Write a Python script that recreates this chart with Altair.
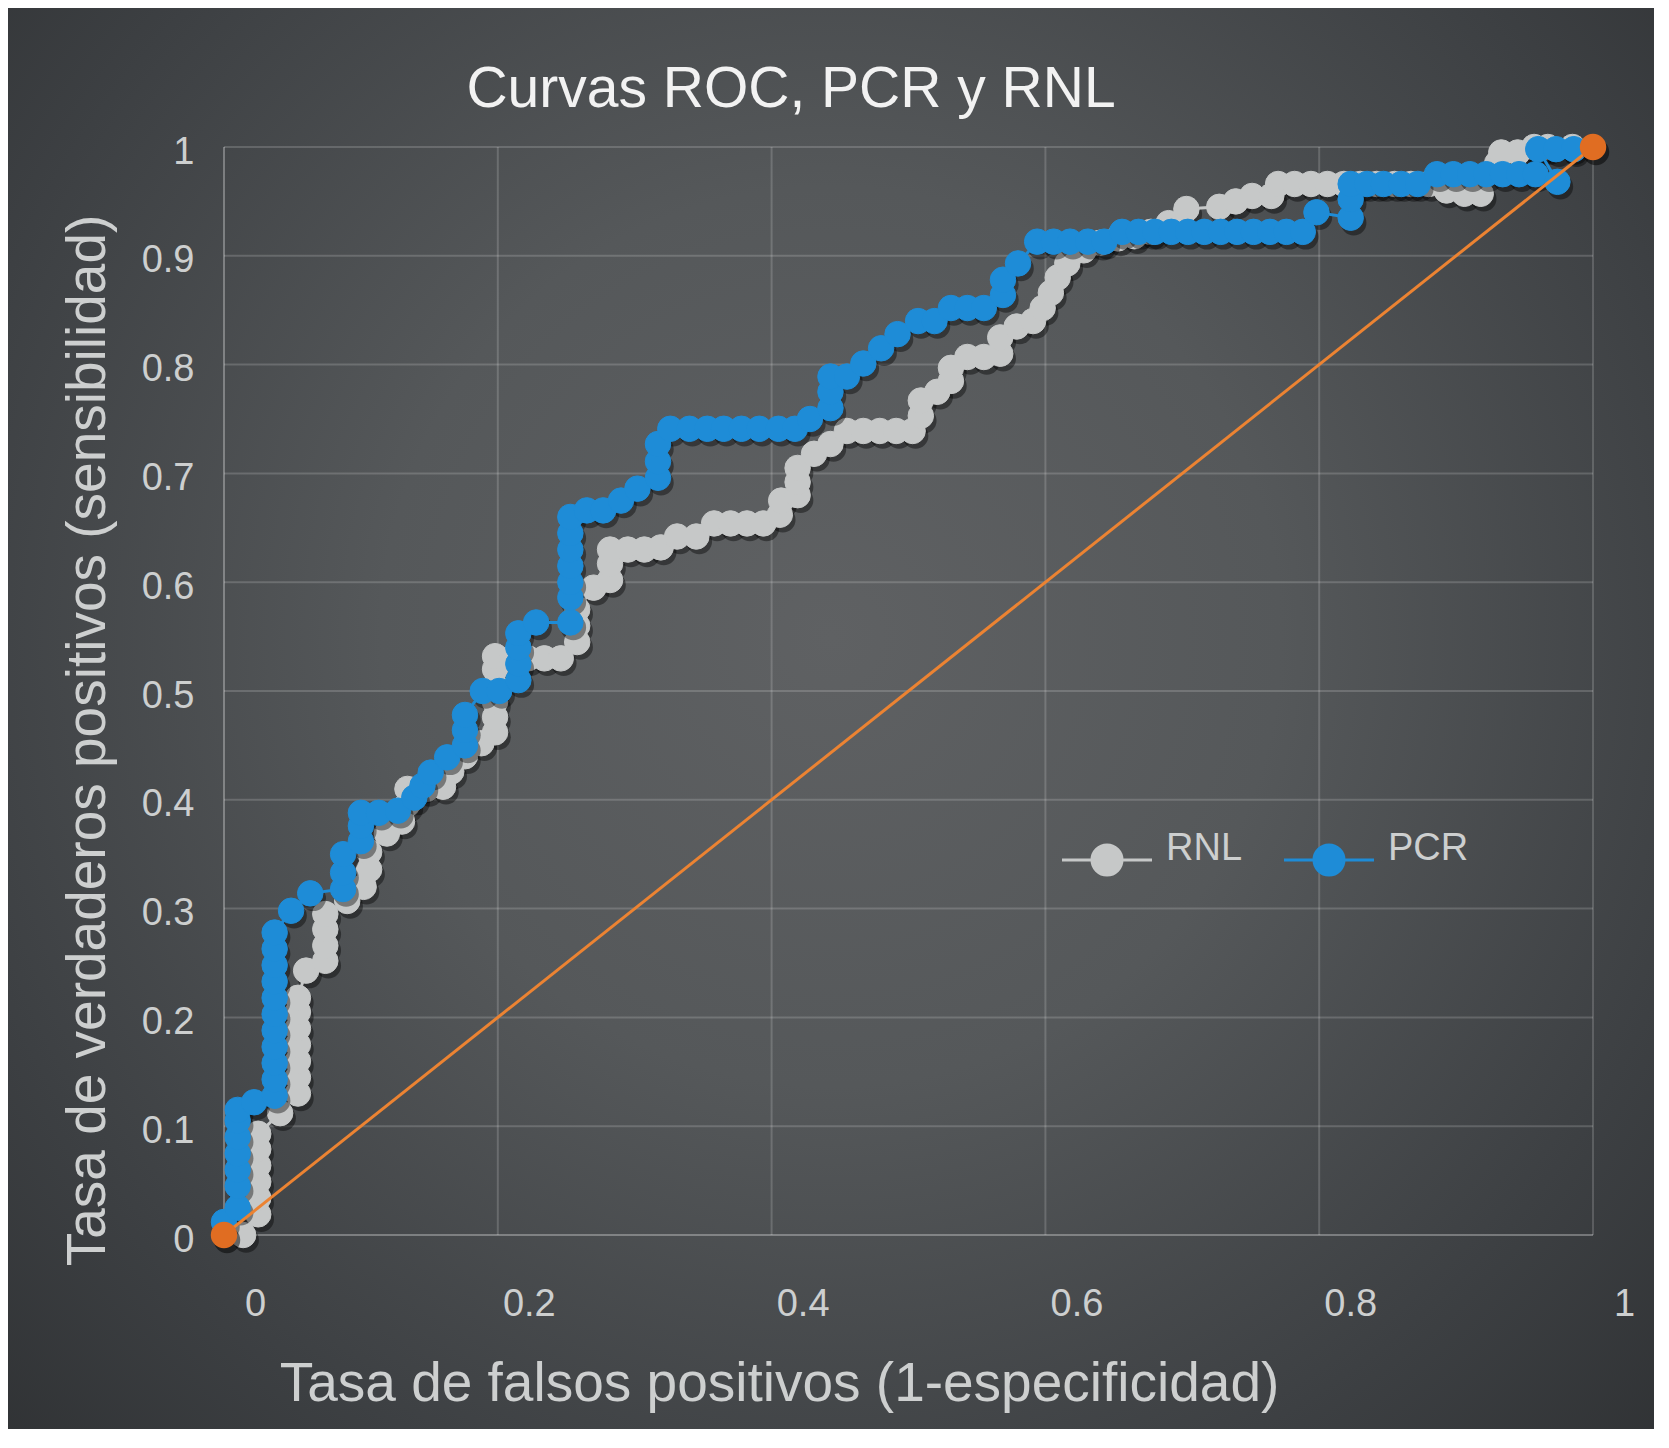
import altair as alt
import pandas as pd

TITLE = "Curvas ROC, PCR y RNL"
X_TITLE = "Tasa de falsos positivos (1-especificidad)"
Y_TITLE = "Tasa de verdaderos positivos (sensibilidad)"
SERIES = ["RNL", "PCR"]
X_TICKS = [0, 0.2, 0.4, 0.6, 0.8, 1]
Y_TICKS = [0, 0.1, 0.2, 0.3, 0.4, 0.5, 0.6, 0.7, 0.8, 0.9, 1]

PCR_FPR = [0.000, 0.010, 0.010, 0.010, 0.010, 0.010, 0.010, 0.010, 0.022, 0.037,
           0.037, 0.037, 0.037, 0.037, 0.037, 0.037, 0.037, 0.037, 0.037, 0.037,
           0.049, 0.063, 0.087, 0.087, 0.087, 0.100, 0.100, 0.100, 0.113, 0.127,
           0.139, 0.145, 0.151, 0.163, 0.176, 0.176, 0.176, 0.189, 0.201, 0.215,
           0.215, 0.215, 0.215, 0.228, 0.253, 0.253, 0.253, 0.253, 0.253, 0.253,
           0.253, 0.265, 0.277, 0.290, 0.302, 0.317, 0.317, 0.317, 0.326, 0.340,
           0.353, 0.365, 0.378, 0.391, 0.405, 0.417, 0.428, 0.443, 0.443, 0.443,
           0.455, 0.467, 0.480, 0.492, 0.507, 0.519, 0.531, 0.543, 0.555, 0.569,
           0.569, 0.580, 0.594, 0.606, 0.618, 0.631, 0.643, 0.656, 0.668, 0.680,
           0.692, 0.704, 0.716, 0.728, 0.740, 0.752, 0.764, 0.776, 0.788, 0.798,
           0.823, 0.823, 0.823, 0.835, 0.847, 0.860, 0.872, 0.886, 0.898, 0.910,
           0.922, 0.934, 0.946, 0.958, 0.974, 0.960, 0.973, 0.986]
PCR_TPR = [0.012, 0.025, 0.045, 0.060, 0.075, 0.090, 0.105, 0.115, 0.122, 0.128,
           0.143, 0.158, 0.173, 0.188, 0.203, 0.218, 0.233, 0.248, 0.263, 0.278,
           0.298, 0.314, 0.318, 0.333, 0.350, 0.362, 0.376, 0.388, 0.388, 0.390,
           0.402, 0.413, 0.425, 0.439, 0.450, 0.464, 0.478, 0.500, 0.500, 0.510,
           0.525, 0.540, 0.553, 0.563, 0.563, 0.586, 0.600, 0.615, 0.630, 0.645,
           0.660, 0.666, 0.666, 0.675, 0.686, 0.696, 0.711, 0.727, 0.741, 0.741,
           0.741, 0.741, 0.741, 0.741, 0.741, 0.741, 0.750, 0.760, 0.775, 0.789,
           0.789, 0.801, 0.815, 0.828, 0.840, 0.840, 0.852, 0.852, 0.852, 0.864,
           0.878, 0.893, 0.913, 0.913, 0.913, 0.913, 0.913, 0.922, 0.922, 0.922,
           0.922, 0.922, 0.922, 0.922, 0.922, 0.922, 0.922, 0.922, 0.922, 0.940,
           0.935, 0.952, 0.966, 0.966, 0.966, 0.966, 0.966, 0.975, 0.975, 0.975,
           0.975, 0.975, 0.975, 0.975, 0.968, 0.998, 0.998, 0.998]

RNL_FPR = [0.014, 0.025, 0.025, 0.025, 0.025, 0.025, 0.025, 0.041, 0.054, 0.054,
           0.054, 0.054, 0.054, 0.054, 0.054, 0.060, 0.074, 0.074, 0.074, 0.074,
           0.090, 0.102, 0.106, 0.106, 0.119, 0.130, 0.134, 0.134, 0.148, 0.160,
           0.166, 0.176, 0.188, 0.198, 0.198, 0.198, 0.198, 0.198, 0.198, 0.210,
           0.222, 0.234, 0.246, 0.258, 0.258, 0.258, 0.270, 0.282, 0.282, 0.282,
           0.295, 0.307, 0.319, 0.331, 0.345, 0.358, 0.370, 0.382, 0.394, 0.406,
           0.407, 0.419, 0.419, 0.419, 0.431, 0.443, 0.455, 0.467, 0.479, 0.491,
           0.503, 0.509, 0.509, 0.521, 0.531, 0.531, 0.543, 0.555, 0.567, 0.567,
           0.579, 0.591, 0.598, 0.604, 0.609, 0.616, 0.628, 0.640, 0.653, 0.665,
           0.677, 0.690, 0.703, 0.727, 0.739, 0.751, 0.765, 0.770, 0.782, 0.794,
           0.806, 0.818, 0.830, 0.842, 0.855, 0.867, 0.880, 0.893, 0.906, 0.918,
           0.930, 0.933, 0.945, 0.957, 0.967, 0.985]
RNL_TPR = [0.000, 0.019, 0.034, 0.049, 0.064, 0.079, 0.093, 0.112, 0.130, 0.145,
           0.160, 0.175, 0.190, 0.205, 0.218, 0.243, 0.252, 0.266, 0.281, 0.295,
           0.307, 0.320, 0.336, 0.352, 0.369, 0.380, 0.396, 0.410, 0.410, 0.412,
           0.426, 0.440, 0.452, 0.462, 0.476, 0.490, 0.505, 0.520, 0.532, 0.530,
           0.530, 0.530, 0.530, 0.545, 0.560, 0.575, 0.595, 0.602, 0.617, 0.630,
           0.630, 0.630, 0.632, 0.642, 0.642, 0.654, 0.654, 0.654, 0.654, 0.662,
           0.675, 0.680, 0.692, 0.705, 0.718, 0.727, 0.739, 0.739, 0.739, 0.739,
           0.739, 0.753, 0.767, 0.775, 0.785, 0.797, 0.807, 0.807, 0.810, 0.825,
           0.835, 0.840, 0.852, 0.866, 0.880, 0.893, 0.905, 0.912, 0.916, 0.918,
           0.922, 0.930, 0.943, 0.945, 0.950, 0.955, 0.955, 0.966, 0.966, 0.966,
           0.966, 0.966, 0.966, 0.966, 0.966, 0.966, 0.966, 0.960, 0.957, 0.957,
           0.985, 0.995, 0.995, 1.000, 1.000, 1.000]

DIAG_FPR = [0, 1]
DIAG_TPR = [0, 1]

# ---- styling ----
W, H = 1369, 1088
PAD = {"left": 216, "top": 139, "right": 61, "bottom": 194}
FONT = "Liberation Sans"
BLUE = "#1e8cd7"
GRAY = "#c6c8c8"
ORANGE_LINE = "#ec8332"
ORANGE_PT = "#e06d22"
LABEL_C = "#cdcfcf"
TITLE_C = "#f2f2f2"
LEGEND_PATH = "M-3,0H-1M1,0H3M-1,0A1,1,0,1,0,1,0A1,1,0,1,0,-1,0Z"
PT_SIZE = 650

rnl = pd.DataFrame({"fpr": RNL_FPR, "tpr": RNL_TPR, "serie": "RNL", "i": range(len(RNL_FPR))})
pcr = pd.DataFrame({"fpr": PCR_FPR, "tpr": PCR_TPR, "serie": "PCR", "i": range(len(PCR_FPR))})
diag = pd.DataFrame({"fpr": DIAG_FPR, "tpr": DIAG_TPR})
xgrid = pd.DataFrame({"fpr": X_TICKS})
ygrid = pd.DataFrame({"tpr": Y_TICKS})

xs = alt.Scale(domain=[0, 1], nice=False, zero=False)
ys = alt.Scale(domain=[0, 1], nice=False, zero=False)

x_axis = alt.Axis(values=X_TICKS, format=".1~f", grid=False, domain=False, ticks=False,
                  labelOffset=31, labelPadding=50, labelFontSize=38, labelColor=LABEL_C,
                  labelFont=FONT, labelFlush=False, labelOverlap=False,
                  title=X_TITLE, titleX=555, titleY=165, titleAlign="center",
                  titleBaseline="alphabetic", titleFontSize=55, titleFontWeight="normal",
                  titleColor=LABEL_C, titleFont=FONT, zindex=1)
y_axis = alt.Axis(values=Y_TICKS, format=".1~f", grid=False, domain=False, ticks=False,
                  labelOffset=5, labelPadding=30, labelFontSize=38, labelColor=LABEL_C,
                  labelFont=FONT, labelFlush=False, labelOverlap=False,
                  title=Y_TITLE, titleX=-120, titleY=593, titleAngle=270, titleAlign="center",
                  titleBaseline="alphabetic", titleFontSize=55, titleFontWeight="normal",
                  titleColor=LABEL_C, titleFont=FONT, zindex=1)

X = alt.X("fpr:Q", scale=xs, axis=x_axis)
Y = alt.Y("tpr:Q", scale=ys, axis=y_axis)

legend = alt.Legend(title=None, orient="none", legendX=864, legendY=694, direction="horizontal",
                    symbolType=LEGEND_PATH, symbolSize=900, symbolStrokeWidth=3, symbolOpacity=1,
                    labelFontSize=38, labelColor=LABEL_C, labelFont=FONT, labelOffset=40,
                    labelBaseline="alphabetic", columnPadding=35, padding=0)
fill_enc = alt.Fill("serie:N", scale=alt.Scale(domain=SERIES, range=[GRAY, BLUE]), legend=legend)
stroke_enc = alt.Stroke("serie:N", scale=alt.Scale(domain=SERIES, range=[GRAY, BLUE]), legend=legend)

bg = alt.Chart(pd.DataFrame({"k": [0]})).mark_rect(
    color={"gradient": "radial", "x1": 0.5, "y1": 0.45, "r1": 0, "x2": 0.5, "y2": 0.45, "r2": 0.78,
           "stops": [{"offset": 0, "color": "#5f6163"}, {"offset": 0.35, "color": "#55585a"},
                     {"offset": 0.7, "color": "#3d4043"}, {"offset": 1, "color": "#2a2c2e"}]}
).encode(x=alt.value(-PAD["left"]), x2=alt.value(W + PAD["right"]),
         y=alt.value(-PAD["top"]), y2=alt.value(H + PAD["bottom"]))

vgrid = alt.Chart(xgrid).mark_rule(color="#ffffff", strokeWidth=2).encode(
    x=X, y=alt.value(0), y2=alt.value(H),
    opacity=alt.condition("datum.fpr == 0", alt.value(0.3), alt.value(0.17)))
hgrid = alt.Chart(ygrid).mark_rule(color="#ffffff", strokeWidth=2).encode(
    y=Y, x=alt.value(0), x2=alt.value(W),
    opacity=alt.condition("datum.tpr == 0", alt.value(0.3), alt.value(0.17)))


def series_layers(df, color):
    shadow = alt.Chart(df).mark_circle(size=PT_SIZE, color="#000000", opacity=0.4,
                                       xOffset=3, yOffset=5).encode(x=X, y=Y)
    line = alt.Chart(df).mark_line(strokeWidth=3, color=color).encode(x=X, y=Y, order="i:Q")
    pts = alt.Chart(df).mark_point(filled=True, size=PT_SIZE, opacity=1, strokeWidth=1).encode(
        x=X, y=Y, fill=fill_enc, stroke=stroke_enc)
    return [shadow, line, pts]


diag_line = alt.Chart(diag).mark_line(color=ORANGE_LINE, strokeWidth=3).encode(x=X, y=Y)
diag_shadow = alt.Chart(diag).mark_circle(size=700, color="#000000", opacity=0.5,
                                          xOffset=3, yOffset=5).encode(x=X, y=Y)
diag_pts = alt.Chart(diag).mark_circle(size=700, color=ORANGE_PT, opacity=1).encode(x=X, y=Y)

title = alt.Chart(pd.DataFrame({"t": [TITLE]})).mark_text(
    fontSize=57, font=FONT, color=TITLE_C, align="center", baseline="alphabetic"
).encode(text="t:N", x=alt.value(567), y=alt.value(-40))

chart = alt.layer(
    bg, vgrid, hgrid,
    *series_layers(rnl, GRAY), *series_layers(pcr, BLUE),
    diag_line, diag_shadow, diag_pts, title
).properties(
    width=W, height=H, padding=PAD, autosize=alt.AutoSizeParams(type="none")
).configure_view(strokeOpacity=0).configure(background="#ffffff")

chart.save("out.html", embed_options={"renderer": "svg", "actions": False})
